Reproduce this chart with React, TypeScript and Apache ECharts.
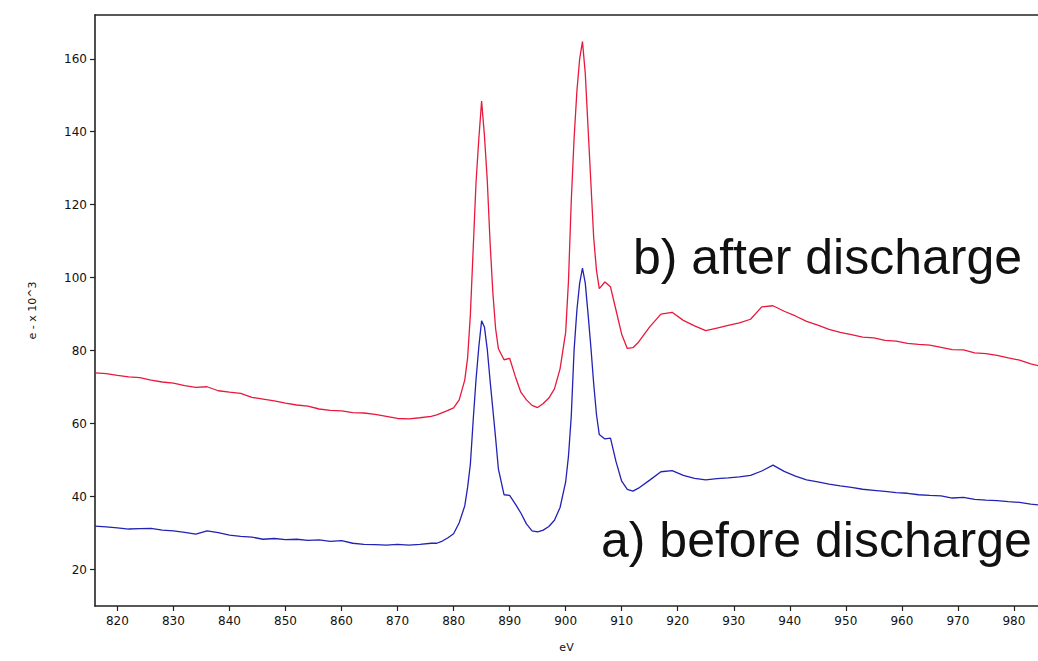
import React, { useEffect, useRef } from "react";
import * as echarts from "echarts";

const energies = [
  816, 818, 820, 822, 824, 826, 828, 830, 832, 834, 836, 838, 840, 842, 844, 846, 848, 850, 852, 854,
  856, 858, 860, 862, 864, 866, 868, 870, 872, 874, 876,
  877, 878, 879, 880, 881, 882, 882.5, 883, 883.5, 884, 884.5, 885, 885.5, 886, 886.5, 887, 887.5, 888,
  889, 890, 891, 892, 893, 894, 895, 896, 897, 898, 899, 900, 900.5, 901, 901.5, 902, 902.5, 903, 903.5,
  904, 904.5, 905, 905.5, 906, 907, 908, 909, 910, 911, 912, 913,
  915, 917, 919, 921, 923, 925, 927, 929, 931, 933, 935, 937, 939, 941, 943, 945, 947, 949, 951, 953,
  955, 957, 959, 961, 963, 965, 967, 969, 971, 973, 975, 977, 979, 981, 983, 985,
];

const afterDischarge = [
  73.9, 73.7, 73.2, 72.8, 72.6, 71.9, 71.4, 71.1, 70.4, 69.9, 70.1, 69.0, 68.6, 68.3, 67.2, 66.7, 66.2, 65.6, 65.1, 64.8,
  64.0, 63.6, 63.5, 63.0, 62.9, 62.5, 62.0, 61.4, 61.3, 61.6, 62.0,
  62.4, 63.0, 63.6, 64.3, 66.5, 72, 78, 90, 108, 126, 138, 148.4, 139, 127, 110, 96, 86, 80.5,
  77.5, 77.9, 73, 68.6, 66.5, 65, 64.4, 65.5, 67, 69.5, 75, 85, 99, 121, 138, 151, 160, 164.7, 156,
  141, 126, 111, 102, 97, 98.8, 97.5, 91, 84.5, 80.6, 80.8, 82.3,
  86.5, 90, 90.5, 88.3, 86.8, 85.5, 86.2, 86.9, 87.6, 88.6, 92.0, 92.3, 90.8, 89.5, 88.0, 87.0, 85.8, 85.0, 84.4, 83.7,
  83.5, 82.8, 82.6, 82.0, 81.7, 81.5, 80.9, 80.3, 80.2, 79.4, 79.2, 78.7, 78.0, 77.4, 76.4, 75.6,
];

const beforeDischarge = [
  31.9, 31.7, 31.4, 31.1, 31.2, 31.3, 30.8, 30.6, 30.2, 29.7, 30.6, 30.1, 29.4, 29.1, 28.9, 28.3, 28.5, 28.2, 28.3, 28.0,
  28.1, 27.7, 27.9, 27.2, 26.9, 26.8, 26.7, 26.9, 26.7, 26.9, 27.2,
  27.2, 27.8, 28.7, 29.8, 32.8, 37.5, 42.5, 49, 61, 72, 81, 88.2, 86.5, 80.5, 72, 64, 56, 47.5,
  40.5, 40.3, 38, 35.5, 32.5, 30.6, 30.3, 30.8, 31.8, 33.5, 37, 44, 51, 62, 80, 91, 98.5, 102.6, 98.5,
  90, 81, 71, 62.5, 57, 55.8, 56, 49.5, 44.2, 42, 41.5, 42.3,
  44.5, 46.8, 47.1, 45.8, 45.0, 44.6, 44.9, 45.1, 45.4, 45.8, 47.0, 48.6, 46.9, 45.6, 44.6, 44.0, 43.4, 42.9, 42.5, 42.0,
  41.7, 41.4, 41.1, 40.9, 40.5, 40.3, 40.2, 39.6, 39.8, 39.2, 39.0, 38.9, 38.6, 38.4, 37.9, 37.6,
];

const xTicks = [820, 830, 840, 850, 860, 870, 880, 890, 900, 910, 920, 930, 940, 950, 960, 970, 980];
const yTicks = [20, 40, 60, 80, 100, 120, 140, 160];

const X_MIN = 816;
const X_MAX = 984.3;
const Y_MIN = 10;
const Y_MAX = 172;

const labelA = "a) before discharge";
const labelB = "b) after discharge";
const xName = "eV";
const yName = "e - x 10^3";

export default function App() {
  const ref = useRef<HTMLDivElement>(null);
  useEffect(() => {
    if (!ref.current) return;
    const chart = echarts.init(ref.current, null, { renderer: "svg" });
    const axisFont = { fontFamily: "DejaVu Sans", fontSize: 12, color: "#111" };
    chart.setOption({
      animation: false,
      backgroundColor: "#fff",
      grid: { left: 95, top: 15, right: 0, bottom: 55, show: false },
      xAxis: [
        {
          type: "value",
          min: X_MIN,
          max: X_MAX,
          name: xName,
          nameLocation: "middle",
          nameGap: 36,
          nameTextStyle: { ...axisFont, fontSize: 11 },
          axisLine: { show: true, onZero: false, lineStyle: { color: "#222", width: 1.6 } },
          axisTick: { show: true, length: 5, customValues: xTicks, lineStyle: { color: "#222", width: 1.2 } },
          axisLabel: { show: true, customValues: xTicks, margin: 9, ...axisFont },
          splitLine: { show: false },
        },
        {
          type: "value",
          position: "top",
          min: X_MIN,
          max: X_MAX,
          axisLine: { show: true, onZero: false, lineStyle: { color: "#222", width: 1.6 } },
          axisTick: { show: false },
          axisLabel: { show: false },
          splitLine: { show: false },
        },
      ],
      yAxis: {
        type: "value",
        min: Y_MIN,
        max: Y_MAX,
        name: yName,
        nameLocation: "middle",
        nameGap: 57,
        nameTextStyle: { ...axisFont, fontSize: 11 },
        axisLine: { show: true, onZero: false, lineStyle: { color: "#222", width: 1.6 } },
        axisTick: { show: true, length: 5, customValues: yTicks, lineStyle: { color: "#222", width: 1.2 } },
        axisLabel: { show: true, customValues: yTicks, margin: 8, ...axisFont },
        splitLine: { show: false },
      },
      series: [
        {
          name: labelB,
          type: "line",
          xAxisIndex: 0,
          showSymbol: false,
          symbol: "none",
          lineStyle: { color: "#e8193c", width: 1.3 },
          data: energies.map((e, i) => [e, afterDischarge[i]]),
        },
        {
          name: labelA,
          type: "line",
          xAxisIndex: 0,
          showSymbol: false,
          symbol: "none",
          lineStyle: { color: "#2222b4", width: 1.3 },
          data: energies.map((e, i) => [e, beforeDischarge[i]]),
        },
      ],
      graphic: [
        {
          type: "text",
          left: 633,
          top: 232,
          style: {
            text: labelB,
            font: '50px "Liberation Sans"',
            fill: "#111",
          },
        },
        {
          type: "text",
          left: 601,
          top: 515,
          style: {
            text: labelA,
            font: '50px "Liberation Sans"',
            fill: "#111",
          },
        },
      ],
    });
    return () => chart.dispose();
  }, []);
  return (
    <div
      ref={ref}
      style={{ position: "absolute", left: 0, top: 0, width: 1038, height: 661 }}
    />
  );
}
